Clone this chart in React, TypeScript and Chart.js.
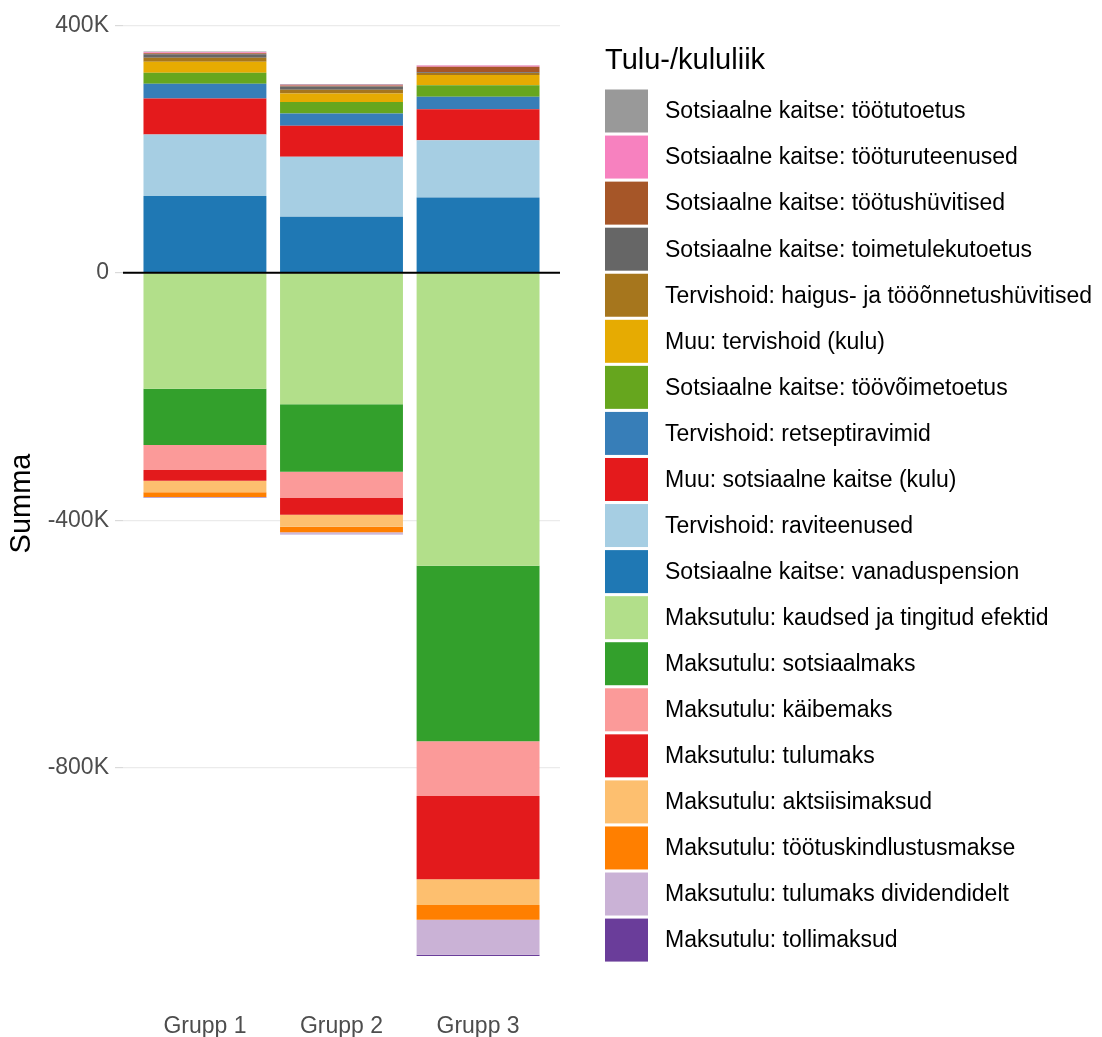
import React, { useEffect, useRef } from 'react';
import { Chart, registerables } from 'chart.js';

Chart.register(...registerables);

const FONT = '"Liberation Sans", Arial, Helvetica, sans-serif';

// Categories and axis ticks
const GROUPS = ['Grupp 1', 'Grupp 2', 'Grupp 3'];
const GROUP_X = [1, 2, 3];
const Y_TICKS = [400000, 0, -400000, -800000];
const Y_TICK_LABELS = ['400K', '0', '-400K', '-800K'];
const Y_MIN = -1177000;
const Y_MAX = 431000;
const X_MIN = 0.4;
const X_MAX = 3.6;

// Positive series (stacked upward from zero, in this order)
const vanaduspension = [123800, 90300, 121700];
const raviteenused = [99700, 97000, 92500];
const muuSotsKaitse = [58100, 50100, 50100];
const retseptiravimid = [23600, 19700, 19900];
const toovoimetoetus = [17800, 18600, 18900];
const muuTervishoid = [17800, 14000, 16200];
const haigusHuvitised = [6400, 5800, 3500];
const toimetulekutoetus = [6000, 5500, 1300];
const tootushuvitised = [1600, 1600, 8600];
const tooturuteenused = [1600, 1300, 2000];
const tootutoetus = [1200, 1100, 700];

// Negative series (stacked downward from zero, in this order)
const kaudsedEfektid = [-187600, -212800, -473600];
const sotsiaalmaks = [-91000, -108900, -283700];
const kaibemaks = [-40400, -42500, -88400];
const tulumaks = [-17200, -27000, -134600];
const aktsiisimaksud = [-18800, -19400, -41500];
const tootuskindlustusmakse = [-7600, -9000, -23800];
const tulumaksDividendidelt = [-800, -2300, -56500];
const tollimaksud = [-800, -900, -2100];

const STACK_LABELS = [
  'Sotsiaalne kaitse: vanaduspension',
  'Tervishoid: raviteenused',
  'Muu: sotsiaalne kaitse (kulu)',
  'Tervishoid: retseptiravimid',
  'Sotsiaalne kaitse: töövõimetoetus',
  'Muu: tervishoid (kulu)',
  'Tervishoid: haigus- ja tööõnnetushüvitised',
  'Sotsiaalne kaitse: toimetulekutoetus',
  'Sotsiaalne kaitse: töötushüvitised',
  'Sotsiaalne kaitse: tööturuteenused',
  'Sotsiaalne kaitse: töötutoetus',
  'Maksutulu: kaudsed ja tingitud efektid',
  'Maksutulu: sotsiaalmaks',
  'Maksutulu: käibemaks',
  'Maksutulu: tulumaks',
  'Maksutulu: aktsiisimaksud',
  'Maksutulu: töötuskindlustusmakse',
  'Maksutulu: tulumaks dividendidelt',
  'Maksutulu: tollimaksud',
];

const STACK_VALUES = [
  vanaduspension, raviteenused, muuSotsKaitse, retseptiravimid, toovoimetoetus,
  muuTervishoid, haigusHuvitised, toimetulekutoetus, tootushuvitised, tooturuteenused,
  tootutoetus, kaudsedEfektid, sotsiaalmaks, kaibemaks, tulumaks, aktsiisimaksud,
  tootuskindlustusmakse, tulumaksDividendidelt, tollimaksud,
];

const STACK_COLORS = [
  '#1F78B4', '#A6CEE3', '#E41A1C', '#377EB8', '#66A61E', '#E6AB02', '#A6761D',
  '#666666', '#A65628', '#F781BF', '#999999', '#B2DF8A', '#33A02C', '#FB9A99',
  '#E31A1C', '#FDBF6F', '#FF7F00', '#CAB2D6', '#6A3D9A',
];

// Legend order, top to bottom
const LEGEND_ORDER = [
  'Sotsiaalne kaitse: töötutoetus',
  'Sotsiaalne kaitse: tööturuteenused',
  'Sotsiaalne kaitse: töötushüvitised',
  'Sotsiaalne kaitse: toimetulekutoetus',
  'Tervishoid: haigus- ja tööõnnetushüvitised',
  'Muu: tervishoid (kulu)',
  'Sotsiaalne kaitse: töövõimetoetus',
  'Tervishoid: retseptiravimid',
  'Muu: sotsiaalne kaitse (kulu)',
  'Tervishoid: raviteenused',
  'Sotsiaalne kaitse: vanaduspension',
  'Maksutulu: kaudsed ja tingitud efektid',
  'Maksutulu: sotsiaalmaks',
  'Maksutulu: käibemaks',
  'Maksutulu: tulumaks',
  'Maksutulu: aktsiisimaksud',
  'Maksutulu: töötuskindlustusmakse',
  'Maksutulu: tulumaks dividendidelt',
  'Maksutulu: tollimaksud',
];
const LEGEND_TITLE = 'Tulu-/kululiik';
const Y_TITLE = 'Summa';

const zeroLinePlugin = {
  id: 'zeroLine',
  afterDatasetsDraw(chart: any) {
    const { ctx, chartArea } = chart;
    const y = chart.scales.y.getPixelForValue(0);
    ctx.save();
    ctx.strokeStyle = '#000000';
    ctx.lineWidth = 2;
    ctx.beginPath();
    ctx.moveTo(chartArea.left, y);
    ctx.lineTo(chartArea.right, y);
    ctx.stroke();
    ctx.restore();
  },
};

const legendPlugin = {
  id: 'customLegend',
  afterDraw(chart: any) {
    const { ctx } = chart;
    const datasets = chart.data.datasets;
    const x0 = 605;
    const box = 43;
    const firstY = 111;
    const step = 46.06;
    ctx.save();
    ctx.fillStyle = '#000000';
    ctx.font = `29px ${FONT}`;
    ctx.textAlign = 'left';
    ctx.textBaseline = 'middle';
    ctx.fillText(LEGEND_TITLE, x0, 61);
    ctx.font = `23px ${FONT}`;
    LEGEND_ORDER.forEach((label, i) => {
      const ds = datasets.find((d: any) => d.label === label);
      if (!ds) return;
      const cy = firstY + i * step;
      ctx.fillStyle = ds.backgroundColor;
      ctx.fillRect(x0, cy - box / 2, box, box);
      ctx.fillStyle = '#000000';
      ctx.fillText(label, 665, cy + 1);
    });
    ctx.restore();
  },
};

export default function App() {
  const canvasRef = useRef<HTMLCanvasElement | null>(null);

  useEffect(() => {
    document.body.style.margin = '0';
    const canvas = canvasRef.current;
    if (!canvas) return;

    const datasets = STACK_LABELS.map((label, i) => ({
      label,
      data: GROUP_X.map((x, j) => ({ x, y: STACK_VALUES[i][j] })),
      backgroundColor: STACK_COLORS[i],
      borderWidth: 0,
      barPercentage: 0.9,
      categoryPercentage: 1.0,
    }));

    const chart = new Chart(canvas, {
      type: 'bar',
      data: { datasets },
      options: {
        responsive: false,
        animation: false,
        devicePixelRatio: 1,
        layout: { padding: { top: 6, right: 542, left: 0, bottom: 0 } },
        plugins: {
          legend: { display: false },
          tooltip: { enabled: false },
        },
        scales: {
          x: {
            type: 'linear',
            stacked: true,
            offset: false,
            min: X_MIN,
            max: X_MAX,
            grid: { display: false, drawTicks: false, offset: false },
            border: { display: false },
            afterBuildTicks: (scale: any) => {
              scale.ticks = GROUP_X.map((v) => ({ value: v }));
            },
            afterFit: (scale: any) => {
              scale.height = 36;
              scale.paddingLeft = 0;
              scale.paddingRight = 0;
            },
            ticks: {
              autoSkip: false,
              maxRotation: 0,
              padding: 12,
              color: '#4D4D4D',
              font: { size: 23, family: FONT },
              callback: (v: any) => GROUPS[GROUP_X.indexOf(Number(v))] ?? '',
            },
          },
          y: {
            type: 'linear',
            stacked: true,
            min: Y_MIN,
            max: Y_MAX,
            border: { display: false },
            grid: {
              color: '#EBEBEB',
              lineWidth: 1.2,
              tickLength: 8,
              tickColor: '#DADADA',
            },
            afterBuildTicks: (scale: any) => {
              scale.ticks = Y_TICKS.map((v) => ({ value: v }));
            },
            afterFit: (scale: any) => {
              scale.width = 123;
              scale.paddingTop = 0;
              scale.paddingBottom = 0;
            },
            ticks: {
              padding: 6,
              color: '#4D4D4D',
              font: { size: 23, family: FONT },
              callback: (v: any) => {
                const idx = Y_TICKS.indexOf(Number(v));
                return idx >= 0 ? Y_TICK_LABELS[idx] : '';
              },
            },
            title: {
              display: true,
              text: Y_TITLE,
              color: '#000000',
              font: { size: 29, family: FONT },
              padding: { top: 5, bottom: 0 },
            },
          },
        },
      },
      plugins: [zeroLinePlugin, legendPlugin],
    } as any);

    return () => {
      chart.destroy();
    };
  }, []);

  return (
    <div style={{ position: 'absolute', left: 0, top: 0, width: 1102, height: 1037 }}>
      <canvas ref={canvasRef} width={1102} height={1037} style={{ display: 'block' }} />
    </div>
  );
}
